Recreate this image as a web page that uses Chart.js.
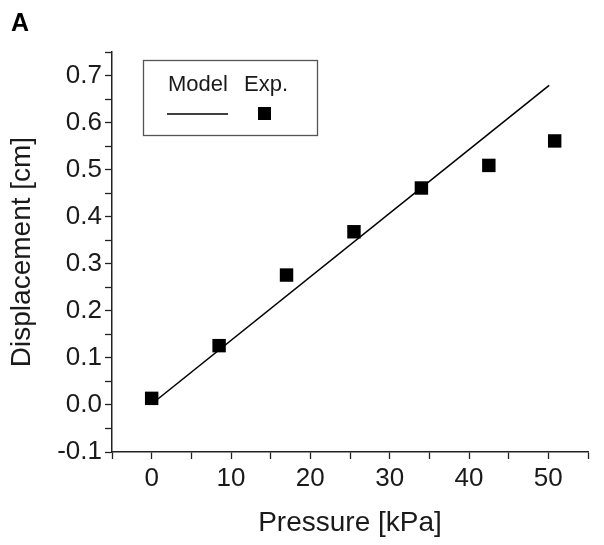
<!DOCTYPE html>
<html>
<head>
<meta charset="utf-8">
<script src="https://cdn.jsdelivr.net/npm/chart.js@4/dist/chart.umd.min.js"></script>
<style>
  html, body { margin: 0; padding: 0; background: #fff; }
  #wrap { width: 604px; height: 545px; }
</style>
</head>
<body>
<div id="wrap"><canvas id="chart" width="604" height="545"></canvas></div>
<script>
// measured points (Exp.)
const expPressure = [0, 8.5, 17, 25.5, 34, 42.5, 50.8]
const expDisplacement = [0.014, 0.126, 0.276, 0.368, 0.461, 0.509, 0.561]

// model line
const modelPressure = [0, 50.1]
const modelDisplacement = [0.002, 0.679]

// axes
const xTicks = [0, 10, 20, 30, 40, 50]
const yTicks = [-0.1, 0.0, 0.1, 0.2, 0.3, 0.4, 0.5, 0.6, 0.7]
const xRange = [-5, 55]
const yRange = [-0.1, 0.75]

const legendLabels = ['Model', 'Exp.']
const panelLabel = 'A'

const FONT = '"Liberation Sans", Arial, sans-serif'
const INK = '#1a1a1a'

const toPoints = (xs, ys) => xs.map((x, i) => ({ x: x, y: ys[i] }))

// majors + halfway minors
const withMinors = (majors, lo, hi) => {
    let step = majors[1] - majors[0]
    let out = []
    for (let v = majors[0] - step; v <= majors[majors.length - 1] + step + 1e-9; v += step / 2) {
        let r = Math.round(v * 1000) / 1000
        if (r >= lo - 1e-9 && r <= hi + 1e-9) out.push(r)
    }
    return out
}
const isMajor = (v, majors) => majors.some(m => Math.abs(m - v) < 1e-6)

const legendBox = {
    id: 'legendBox',
    afterDraw(chart) {
        const c = chart.ctx
        c.save()
        // panel letter
        c.fillStyle = '#000'
        c.font = 'bold 25px ' + FONT
        c.textBaseline = 'alphabetic'
        c.fillText(panelLabel, 11, 31)

        // box
        c.strokeStyle = '#555'
        c.lineWidth = 1.3
        c.strokeRect(143.5, 60.5, 174, 75)

        c.fillStyle = INK
        c.font = '22px ' + FONT
        c.textAlign = 'center'
        c.fillText(legendLabels[0], 198, 91)
        c.fillText(legendLabels[1], 266, 91)

        c.strokeStyle = '#000'
        c.lineWidth = 1.5
        c.beginPath()
        c.moveTo(167, 114)
        c.lineTo(228, 114)
        c.stroke()

        c.fillStyle = '#000'
        c.fillRect(258, 107, 13, 13)
        c.restore()
    }
}

const config = {
    type: 'scatter',
    data: {
        datasets: [
            {
                label: legendLabels[0],
                data: toPoints(modelPressure, modelDisplacement),
                showLine: true,
                borderColor: '#000',
                borderWidth: 1.6,
                pointRadius: 0,
                fill: false,
            },
            {
                label: legendLabels[1],
                data: toPoints(expPressure, expDisplacement),
                pointStyle: 'rect',
                pointRadius: 9.5,
                pointBackgroundColor: '#000',
                pointBorderWidth: 0,
                showLine: false,
            }
        ]
    },
    options: {
        responsive: false,
        animation: false,
        devicePixelRatio: 1,
        layout: { padding: { top: 52, right: 16, left: 0, bottom: 0 } },
        plugins: {
            legend: { display: false },
            tooltip: { enabled: false }
        },
        scales: {
            x: {
                type: 'linear',
                min: xRange[0],
                max: xRange[1],
                afterBuildTicks: s => { s.ticks = withMinors(xTicks, xRange[0], xRange[1]).map(v => ({ value: v })) },
                afterFit: s => { s.height = 93 },
                grid: { drawOnChartArea: false, drawTicks: true, tickLength: 7, tickColor: '#222', tickWidth: 1.3 },
                border: { display: true, color: '#222', width: 1.5 },
                ticks: {
                    autoSkip: false,
                    maxRotation: 0,
                    color: INK,
                    padding: 4,
                    font: { family: FONT, size: 26 },
                    callback: v => isMajor(v, xTicks) ? String(v) : ''
                },
                title: {
                    display: true,
                    text: 'Pressure [kPa]',
                    color: INK,
                    font: { family: FONT, size: 28 },
                    padding: { top: 0, bottom: 5 }
                }
            },
            y: {
                type: 'linear',
                min: yRange[0],
                max: yRange[1],
                afterBuildTicks: s => { s.ticks = withMinors(yTicks, yRange[0], yRange[1]).map(v => ({ value: v })) },
                afterFit: s => { s.width = 112 },
                grid: { drawOnChartArea: false, drawTicks: true, tickLength: 7, tickColor: '#222', tickWidth: 1.3 },
                border: { display: true, color: '#222', width: 1.5 },
                ticks: {
                    autoSkip: false,
                    color: INK,
                    padding: 3,
                    font: { family: FONT, size: 26 },
                    callback: v => isMajor(v, yTicks) ? v.toFixed(1) : ''
                },
                title: {
                    display: true,
                    text: 'Displacement [cm]',
                    color: INK,
                    font: { family: FONT, size: 28 },
                    padding: { top: 5, bottom: 0 }
                }
            }
        }
    },
    plugins: [legendBox]
}

new Chart(document.getElementById('chart').getContext('2d'), config)
</script>
</body>
</html>
